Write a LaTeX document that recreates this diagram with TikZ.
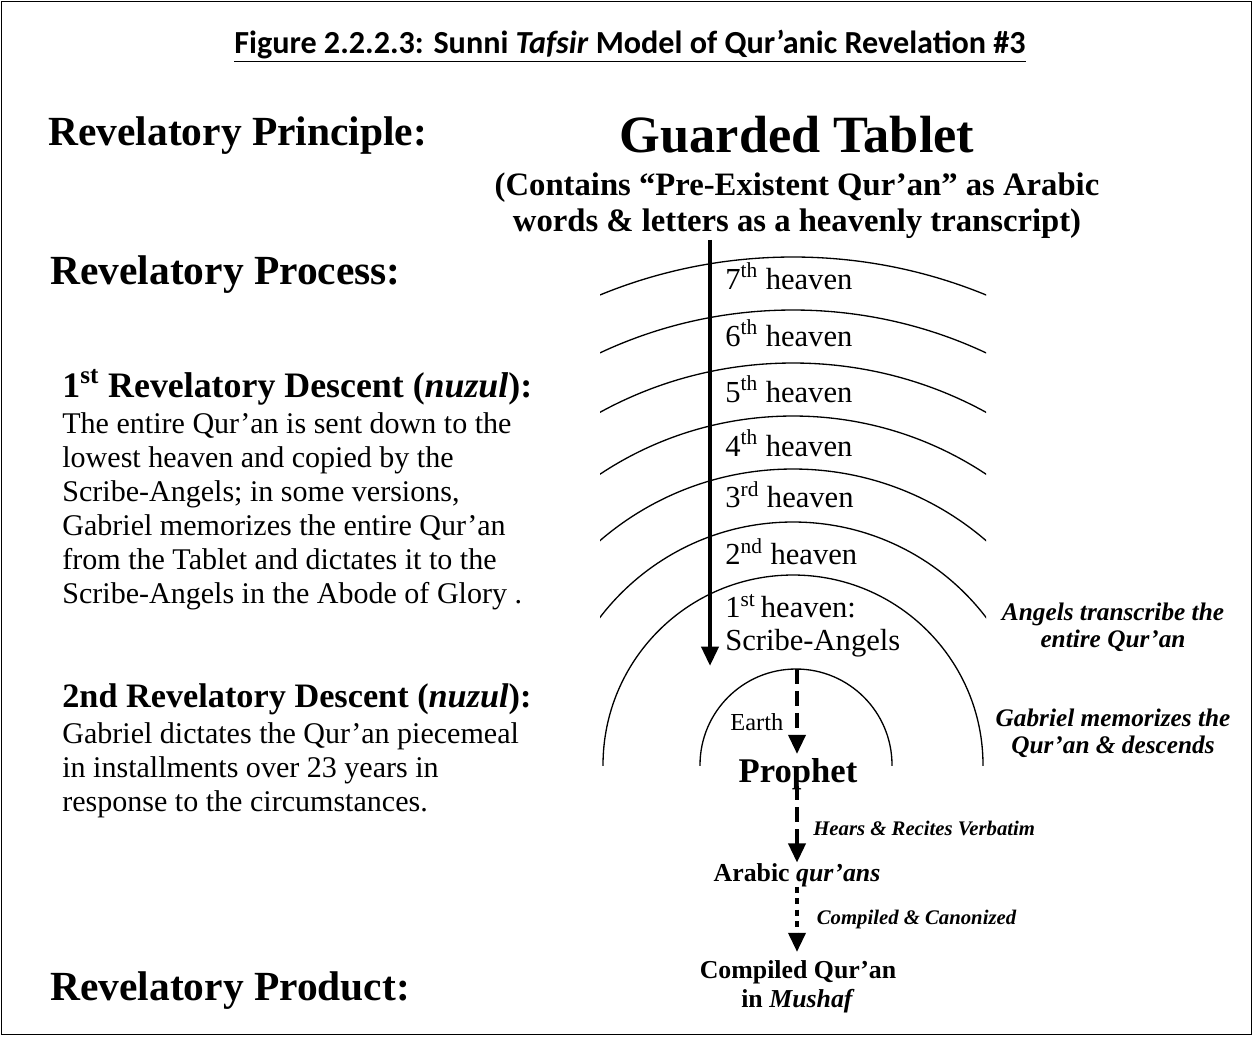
\documentclass[tikz,border=0pt]{standalone}
\usepackage{fontspec}
\setmainfont{Liberation Serif}
\newfontfamily\capfont[Ligatures=TeX]{Carlito}
\usetikzlibrary{arrows.meta, positioning}
\newcommand{\leftlines}[1]{\begin{tabular}[t]{@{}l@{}}#1\end{tabular}}
\newcommand{\midlines}[1]{\begin{tabular}[t]{@{}c@{}}#1\end{tabular}}
\tikzset{
  headtext/.style={anchor=base west, inner sep=0pt, font=\fontsize{23.6}{27}\selectfont\bfseries},
  desctitle/.style={anchor=base west, inner sep=0pt, font=\fontsize{20.4}{24}\selectfont\bfseries},
  bodytext/.style={anchor=base west, inner sep=0pt, font=\fontsize{17.1}{19.45}\selectfont},
  heavenlbl/.style={anchor=base west, inner sep=0pt, font=\fontsize{17.4}{19.3}\selectfont},
  notelbl/.style={anchor=base, inner sep=0pt, font=\fontsize{14.4}{15.4}\selectfont\bfseries\itshape},
  steplbl/.style={anchor=base west, inner sep=0pt, font=\fontsize{11.8}{14}\selectfont\bfseries\itshape},
  stagenode/.style={anchor=base, inner sep=0pt, font=\fontsize{14.7}{16.5}\selectfont\bfseries},
  arw/.style={-{Triangle[length=11pt,width=9.5pt]}, line width=2.6pt},
  arcline/.style={line width=0.75pt},
}
\begin{document}
\begin{tikzpicture}[x=0.02cm, y=-0.02cm]
  \useasboundingbox (0,0) rectangle (1253,1036);
  \draw[line width=0.9pt] (1.5,1.5) rectangle (1251.5,1034.5);

  % Title
  \node[anchor=base, inner sep=0pt, font=\capfont\fontsize{18.3}{21}\selectfont\bfseries]
    (title) at (630,53) {\underline{Figure 2.2.2.3: Sunni \textit{Tafsir} Model of Qur'anic Revelation \#3}};

  % Left column
  \node[headtext] (principle) at (48,145) {Revelatory Principle:};
  \node[headtext] (process) at (50,284) {Revelatory Process:};
  \node[headtext] (product) at (50,1000) {Revelatory Product:};

  \node[desctitle] (descA) at (62,397) {1\textsuperscript{st} Revelatory Descent (\textit{nuzul}):};
  \node[bodytext] (textA) at (62,433) {\leftlines{The entire Qur'an is sent down to the\\
    lowest heaven and copied by the\\
    Scribe-Angels; in some versions,\\
    Gabriel memorizes the entire Qur'an\\
    from the Tablet and dictates it to the\\
    Scribe-Angels in the Abode of Glory .}};

  \node[desctitle, font=\fontsize{19.5}{24}\selectfont\bfseries] (descB) at (62,707) {2nd Revelatory Descent (\textit{nuzul}):};
  \node[bodytext] (textB) at (62,743) {\leftlines{Gabriel dictates the Qur'an piecemeal\\
    in installments over 23 years in\\
    response to the circumstances.}};

  % Tablet
  \node[anchor=base, inner sep=0pt, font=\fontsize{29.8}{34}\selectfont\bfseries]
    (tablet) at (797,152) {Guarded Tablet};
  \node[anchor=base, inner sep=0pt, font=\fontsize{18.6}{21}\selectfont\bfseries]
    (sub) at (797,195) {\midlines{(Contains ``Pre-Existent Qur'an'' as Arabic\\words \& letters as a heavenly transcript)}};

  % Heavens and earth
  \begin{scope}
    \clip (600,150) rectangle (986,765);
    \foreach \r in {190,243,296,349,402,455,508}
      \draw[arcline] (793,765) circle (\r);
    \draw[arcline] (796,765) circle (96);
  \end{scope}

  \node[heavenlbl] (h7) at (725,289) {7\textsuperscript{th} heaven};
  \node[heavenlbl] (h6) at (725,346) {6\textsuperscript{th} heaven};
  \node[heavenlbl] (h5) at (725,402) {5\textsuperscript{th} heaven};
  \node[heavenlbl] (h4) at (725,456) {4\textsuperscript{th} heaven};
  \node[heavenlbl] (h3) at (725,507) {3\textsuperscript{rd} heaven};
  \node[heavenlbl] (h2) at (725,564) {2\textsuperscript{nd} heaven};
  \node[heavenlbl] (h1) at (725,617) {\leftlines{1\textsuperscript{st}\,heaven:\\Scribe-Angels}};
  \node[anchor=base west, inner sep=0pt, font=\fontsize{13.9}{16}\selectfont]
    (earthlbl) at (730,730) {Earth};

  % Right notes
  \node[notelbl] (scribenote) at (1113,620) {\midlines{Angels transcribe the\\entire Qur'an}};
  \node[notelbl] (gabrielnote) at (1113,726) {\midlines{Gabriel memorizes the\\Qur'an \& descends}};

  % Stages
  \node[anchor=base, inner sep=2pt, font=\fontsize{19.7}{22}\selectfont\bfseries]
    (prophet) at (798,782) {Prophet};
  \node[stagenode] (arabic) at (797,881) {Arabic \textit{qur'ans}};
  \node[stagenode] (mushaf) at (798,978) {\midlines{Compiled Qur'an\\in \textit{Mushaf}}};

  % Descent arrows
  \coordinate (scribeend) at (710,666);
  \coordinate (earthtop) at (797,669);
  \draw[arw] ([yshift=2pt]sub.south -| scribeend) -- (scribeend);
  \draw[arw, dash pattern=on 8.5pt off 4pt] (earthtop) -- (earthtop |- prophet.north);
  \draw[arw, dash pattern=on 8.5pt off 4pt] ([yshift=-2pt]prophet.base -| earthtop) -- (arabic.north -| earthtop)
    node[steplbl, pos=0.55, right=8pt] (hears) {Hears \& Recites Verbatim};
  \draw[arw, dash pattern=on 3.5pt off 3pt] (arabic.south -| earthtop) -- ([yshift=3pt]mushaf.north -| earthtop)
    node[steplbl, pos=0.5, right=10pt] (canon) {Compiled \& Canonized};

\end{tikzpicture}
\end{document}
